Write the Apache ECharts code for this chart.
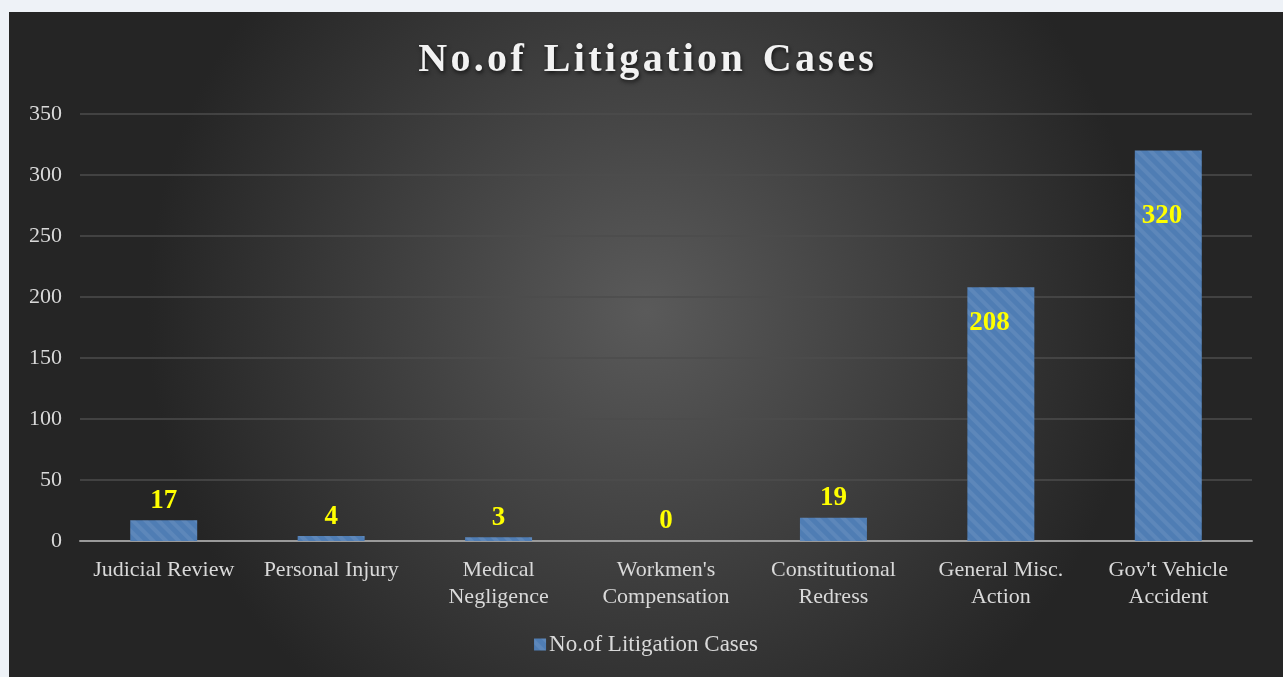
<!DOCTYPE html>
<html>
<head>
<meta charset="utf-8">
<script src="https://cdn.jsdelivr.net/npm/echarts@6/dist/echarts.min.js"></script>
<style>
  html, body { margin: 0; padding: 0; width: 1283px; height: 677px; overflow: hidden; background: #eef2f7; }
  #chart { position: absolute; left: 9px; top: 12px; width: 1274px; height: 665px; }
</style>
</head>
<body>
<div id="chart"></div>
<script>
// data
const categories = ['Judicial Review', 'Personal Injury', 'Medical\nNegligence', "Workmen's\nCompensation", 'Constitutional\nRedress', 'General Misc.\nAction', "Gov't Vehicle\nAccident"]
const cases = [17, 4, 3, 0, 19, 208, 320]
const seriesName = 'No.of Litigation Cases'

const serif = '"Liberation Serif", "DejaVu Serif", serif'

const chart = echarts.init(document.getElementById('chart'))

// tall bars get their label inside, near the top-left
const insideLabelPos = { 5: [2, 22], 6: [7, 52] }
const barData = cases.map((v, i) => {
  const item = { value: v }
  if (insideLabelPos[i]) {
    item.label = { position: insideLabelPos[i] }
  }
  return item
})

// spaced-out title like the original
const spacedTitle = seriesName.split(' ').map(w => w.split('').join('\u200A')).join('  ')

const option = {
  backgroundColor: {
    type: 'radial',
    x: 0.5, y: 0.45, r: 0.75,
    colorStops: [
      { offset: 0, color: '#5a5a5a' },
      { offset: 1, color: '#252525' },
    ],
  },
  aria: { enabled: true, label: { enabled: false }, decal: { show: true } },
  title: {
    text: spacedTitle,
    left: 'center',
    top: 24,
    textStyle: {
      fontFamily: serif,
      fontSize: 40,
      fontWeight: 'bold',
      color: '#f2f2f2',
      textShadowColor: 'rgba(0,0,0,0.7)',
      textShadowBlur: 4,
      textShadowOffsetX: 1,
      textShadowOffsetY: 2,
    },
  },
  legend: {
    bottom: 16,
    left: 'center',
    itemWidth: 12,
    itemHeight: 12,
    itemGap: 4,
    icon: 'rect',
    textStyle: { fontFamily: serif, fontSize: 23, color: '#d9d9d9', padding: [0, 0, 0, -2] },
    data: [seriesName],
  },
  grid: {
    left: 71,
    right: 31,
    top: 102,
    bottom: 136,
  },
  xAxis: {
    type: 'category',
    data: categories,
    axisLine: { lineStyle: { color: '#9a9a9a', width: 2 } },
    axisTick: { show: false },
    axisLabel: {
      fontFamily: serif,
      fontSize: 22,
      color: '#d9d9d9',
      lineHeight: 27,
      margin: 16,
      interval: 0,
    },
  },
  yAxis: {
    type: 'value',
    min: 0,
    max: 350,
    interval: 50,
    axisLine: { show: false },
    axisTick: { show: false },
    splitLine: { lineStyle: { color: '#4d4d4d', width: 1.5 } },
    axisLabel: {
      fontFamily: serif,
      fontSize: 22,
      color: '#d9d9d9',
      margin: 18,
    },
  },
  series: [
    {
      name: seriesName,
      type: 'bar',
      barWidth: '40%',
      data: barData,
      itemStyle: {
        color: '#4f7db4',
        decal: {
          symbol: 'rect',
          symbolSize: 1,
          color: 'rgba(255,255,255,0.08)',
          dashArrayX: [1, 0],
          dashArrayY: [4, 5],
          rotation: Math.PI / 4,
        },
      },
      label: {
        show: true,
        position: 'top',
        distance: 6,
        fontFamily: serif,
        fontSize: 27,
        fontWeight: 'bold',
        color: '#ffff00',
      },
    },
  ],
}

chart.setOption(option)
</script>
</body>
</html>
